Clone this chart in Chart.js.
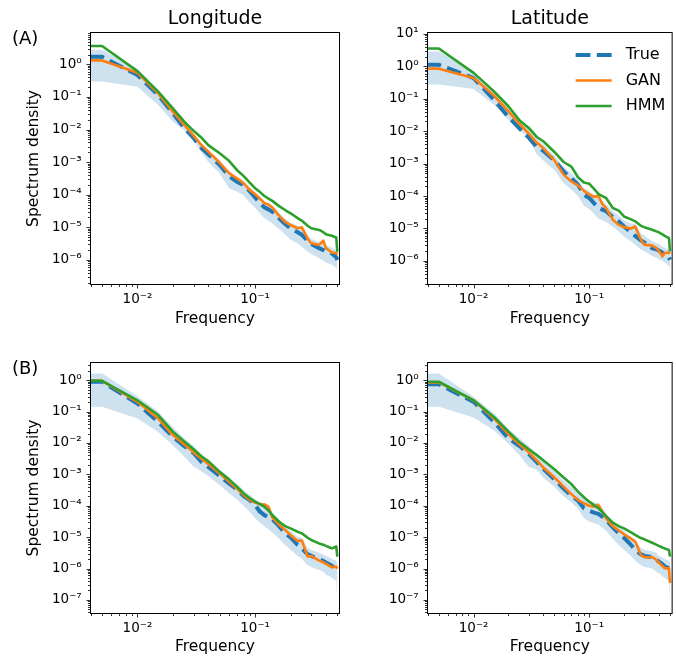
<!DOCTYPE html>
<html>
<head>
<meta charset="utf-8">
<script src="https://cdn.jsdelivr.net/npm/chart.js@4.4.1/dist/chart.umd.min.js"></script>
<style>
  body { margin: 0; background: #fff; width: 676px; height: 660px; position: relative; overflow: hidden; }
  canvas { position: absolute; }
</style>
</head>
<body>
<canvas id="lonA" width="345" height="332" style="left:0;top:0"></canvas>
<canvas id="latA" width="331" height="332" style="left:345px;top:0"></canvas>
<canvas id="lonB" width="345" height="328" style="left:0;top:332px"></canvas>
<canvas id="latB" width="331" height="328" style="left:345px;top:332px"></canvas>
<script>
// frequencies shared by all panels
const freq = [0.0039, 0.005, 0.01, 0.015, 0.02, 0.025, 0.03, 0.035, 0.04, 0.05, 0.06, 0.07, 0.08, 0.09, 0.1,
  0.11, 0.12, 0.13, 0.14, 0.16, 0.18, 0.2, 0.23, 0.25, 0.28, 0.3, 0.35, 0.38, 0.4, 0.43, 0.45, 0.49, 0.5];

// spectrum density, stored as log10 of the value
// (A) Longitude
const lonA_true = [0.23, 0.23, -0.33, -0.94, -1.50, -1.95, -2.26, -2.57, -2.76, -3.09, -3.43, -3.60, -3.71, -3.89, -4.08, -4.25, -4.39, -4.45, -4.52, -4.72, -4.90, -5.03, -5.15, -5.23, -5.42, -5.51, -5.64, -5.70, -5.75, -5.77, -5.80, -5.92, -6.00];
const lonA_gan = [0.12, 0.12, -0.26, -0.89, -1.45, -1.86, -2.19, -2.48, -2.68, -3.02, -3.34, -3.50, -3.65, -3.86, -3.98, -4.12, -4.26, -4.30, -4.39, -4.65, -4.83, -4.93, -5.03, -5.00, -5.35, -5.49, -5.54, -5.41, -5.64, -5.72, -5.78, -5.78, -5.84];
const lonA_hmm = [0.56, 0.56, -0.21, -0.84, -1.35, -1.76, -2.04, -2.25, -2.48, -2.73, -2.96, -3.24, -3.43, -3.63, -3.80, -3.92, -4.04, -4.12, -4.19, -4.35, -4.47, -4.57, -4.72, -4.80, -4.95, -5.03, -5.08, -5.15, -5.21, -5.24, -5.26, -5.31, -5.75];
const lonA_hi = [0.45, 0.45, -0.15, -0.80, -1.38, -1.80, -2.12, -2.42, -2.62, -2.95, -3.28, -3.45, -3.58, -3.75, -3.93, -4.08, -4.22, -4.28, -4.35, -4.55, -4.73, -4.85, -4.95, -4.98, -5.25, -5.35, -5.45, -5.40, -5.55, -5.60, -5.62, -5.70, -5.75];
const lonA_lo = [-0.53, -0.53, -0.69, -1.25, -1.76, -2.02, -2.33, -2.70, -3.00, -3.35, -3.80, -3.90, -4.02, -4.25, -4.40, -4.58, -4.72, -4.80, -4.88, -5.05, -5.22, -5.38, -5.50, -5.60, -5.75, -5.82, -5.95, -6.02, -6.08, -6.12, -6.15, -6.25, -6.35];
// (A) Latitude
const latA_true = [0.05, 0.05, -0.36, -1.03, -1.56, -1.92, -2.20, -2.48, -2.60, -2.90, -3.24, -3.45, -3.65, -3.96, -4.06, -4.22, -4.37, -4.42, -4.47, -4.65, -4.78, -4.94, -5.12, -5.23, -5.37, -5.43, -5.61, -5.64, -5.68, -5.75, -5.81, -5.90, -5.97];
const latA_gan = [-0.07, -0.07, -0.36, -0.90, -1.39, -1.78, -2.07, -2.35, -2.52, -2.90, -3.34, -3.55, -3.67, -3.84, -3.95, -4.03, -3.99, -4.25, -4.37, -4.73, -4.89, -4.96, -5.00, -4.94, -5.35, -5.50, -5.53, -5.60, -5.69, -5.86, -5.76, -5.74, -5.78];
const latA_hmm = [0.55, 0.55, -0.20, -0.77, -1.23, -1.67, -1.90, -2.17, -2.31, -2.64, -2.95, -3.09, -3.42, -3.58, -3.62, -3.78, -3.93, -4.00, -4.06, -4.37, -4.45, -4.63, -4.72, -4.78, -4.92, -4.96, -5.04, -5.09, -5.12, -5.18, -5.23, -5.30, -5.71];
const latA_hi = [0.46, 0.46, -0.16, -0.72, -1.20, -1.60, -1.90, -2.20, -2.40, -2.75, -3.10, -3.30, -3.50, -3.75, -3.85, -3.95, -3.95, -4.15, -4.25, -4.47, -4.60, -4.75, -4.85, -4.85, -5.15, -5.22, -5.40, -5.45, -5.48, -5.55, -5.60, -5.65, -5.70];
const latA_lo = [-0.56, -0.56, -0.70, -1.18, -1.64, -1.95, -2.25, -2.70, -2.90, -3.20, -3.60, -3.80, -4.00, -4.30, -4.40, -4.55, -4.70, -4.75, -4.80, -4.95, -5.10, -5.25, -5.40, -5.50, -5.65, -5.70, -5.85, -5.90, -5.95, -6.00, -6.05, -6.15, -6.25];
// (B) Longitude
const lonB_true = [-0.05, -0.05, -0.74, -1.33, -1.80, -2.10, -2.32, -2.60, -2.76, -3.05, -3.29, -3.48, -3.69, -3.82, -3.98, -4.19, -4.30, -4.36, -4.43, -4.65, -4.88, -5.01, -5.25, -5.36, -5.55, -5.60, -5.71, -5.76, -5.81, -5.87, -5.92, -6.02, -6.10];
const lonB_gan = [-0.02, -0.02, -0.69, -1.22, -1.75, -2.05, -2.30, -2.50, -2.67, -2.97, -3.23, -3.45, -3.66, -3.82, -3.90, -3.95, -3.96, -4.03, -4.37, -4.61, -4.77, -4.93, -5.12, -5.11, -5.62, -5.60, -5.75, -5.80, -5.85, -5.92, -5.96, -5.94, -6.00];
const lonB_hmm = [-0.02, -0.02, -0.64, -1.11, -1.64, -1.95, -2.20, -2.43, -2.58, -2.92, -3.16, -3.39, -3.61, -3.76, -3.87, -3.95, -4.03, -4.15, -4.30, -4.51, -4.65, -4.72, -4.83, -4.88, -5.02, -5.09, -5.20, -5.24, -5.28, -5.33, -5.36, -5.30, -5.62];
const lonB_hi = [0.21, 0.21, -0.51, -1.00, -1.50, -1.85, -2.10, -2.35, -2.55, -2.85, -3.10, -3.30, -3.50, -3.65, -3.80, -3.90, -3.92, -4.00, -4.20, -4.45, -4.65, -4.80, -5.00, -5.02, -5.35, -5.40, -5.50, -5.55, -5.60, -5.65, -5.70, -5.75, -5.80];
const lonB_lo = [-0.85, -0.85, -1.22, -1.65, -2.07, -2.44, -2.76, -2.90, -3.05, -3.35, -3.60, -3.80, -4.00, -4.20, -4.40, -4.55, -4.65, -4.75, -4.85, -5.05, -5.25, -5.40, -5.60, -5.70, -5.90, -5.95, -6.05, -6.10, -6.20, -6.25, -6.30, -6.40, -7.00];
// (B) Latitude
const latB_true = [-0.13, -0.13, -0.69, -1.33, -1.85, -2.10, -2.35, -2.60, -2.82, -3.16, -3.45, -3.68, -3.84, -4.08, -4.16, -4.22, -4.26, -4.35, -4.45, -4.69, -4.88, -5.02, -5.25, -5.41, -5.55, -5.60, -5.64, -5.72, -5.78, -5.86, -5.94, -5.99, -6.10];
const latB_gan = [-0.07, -0.07, -0.64, -1.22, -1.72, -2.05, -2.30, -2.55, -2.78, -3.10, -3.39, -3.63, -3.82, -3.92, -4.00, -4.03, -3.97, -4.19, -4.40, -4.65, -4.79, -4.91, -5.05, -5.14, -5.57, -5.64, -5.64, -5.72, -5.81, -5.92, -5.99, -5.99, -6.46];
const latB_hmm = [-0.05, -0.05, -0.64, -1.17, -1.64, -1.98, -2.20, -2.38, -2.55, -2.84, -3.10, -3.31, -3.55, -3.73, -3.87, -3.98, -4.08, -4.20, -4.33, -4.54, -4.65, -4.72, -4.85, -4.93, -5.03, -5.07, -5.18, -5.24, -5.28, -5.33, -5.36, -5.41, -5.62];
const latB_hi = [0.21, 0.21, -0.53, -1.05, -1.55, -1.85, -2.10, -2.35, -2.55, -2.90, -3.20, -3.40, -3.60, -3.75, -3.85, -3.90, -3.92, -4.10, -4.25, -4.50, -4.65, -4.80, -5.00, -5.10, -5.35, -5.40, -5.45, -5.50, -5.60, -5.65, -5.70, -5.75, -5.80];
const latB_lo = [-0.85, -0.85, -1.19, -1.60, -2.02, -2.39, -2.76, -2.85, -3.10, -3.40, -3.70, -3.90, -4.10, -4.40, -4.50, -4.55, -4.60, -4.70, -4.80, -5.05, -5.25, -5.40, -5.60, -5.75, -5.90, -5.95, -6.00, -6.10, -6.15, -6.25, -6.30, -6.40, -7.00];

const seriesNames = ['True', 'GAN', 'HMM'];
const seriesColors = ['#1f77b4', '#ff7f0e', '#2ca02c'];
const bandColor = 'rgba(31,119,180,0.22)';

Chart.defaults.font.family = '"DejaVu Sans", sans-serif';
Chart.defaults.color = '#000';

const SUP = { '-': '\u207B', '0': '\u2070', '1': '\u00B9', '2': '\u00B2', '3': '\u00B3', '4': '\u2074',
  '5': '\u2075', '6': '\u2076', '7': '\u2077', '8': '\u2078', '9': '\u2079' };

function decadeLabel(v) {
  const e = Math.round(Math.log10(v));
  return '10' + String(e).split('').map(c => SUP[c]).join('');
}

// 1..9 x 10^n ticks like matplotlib, majors at powers of ten
function logTicks(axis) {
  const ticks = [];
  const lo = Math.floor(Math.log10(axis.min)), hi = Math.ceil(Math.log10(axis.max));
  for (let e = lo; e <= hi; e++) {
    for (let m = 1; m <= 9; m++) {
      const v = m * Math.pow(10, e);
      if (v >= axis.min && v <= axis.max) ticks.push({ value: v, major: m === 1 });
    }
  }
  axis.ticks = ticks;
}

const toPoints = logs => logs.map((v, i) => ({ x: freq[i], y: Math.pow(10, v) }));

// frame, tick marks, title, panel letter and legend
const panelDecor = {
  id: 'panelDecor',
  afterDraw(chart, args, o) {
    const { ctx, chartArea: a, scales: { x, y } } = chart;
    ctx.save();
    ctx.strokeStyle = '#000';
    ctx.lineWidth = 0.8;
    ctx.beginPath();
    x.ticks.forEach(t => {
      const px = Math.round(x.getPixelForValue(t.value)) + 0.5;
      ctx.moveTo(px, a.bottom);
      ctx.lineTo(px, a.bottom + (t.major ? 3.5 : 2));
    });
    y.ticks.forEach(t => {
      const py = Math.round(y.getPixelForValue(t.value)) + 0.5;
      ctx.moveTo(a.left, py);
      ctx.lineTo(a.left - (t.major ? 3.5 : 2), py);
    });
    ctx.stroke();
    ctx.lineWidth = 1;
    ctx.strokeRect(a.left + 0.5, a.top + 0.5, a.right - a.left - 1, a.bottom - a.top - 1);

    ctx.fillStyle = '#000';
    if (o.title) {
      ctx.font = '19px "DejaVu Sans"';
      ctx.textAlign = 'center';
      ctx.textBaseline = 'alphabetic';
      ctx.fillText(o.title, (a.left + a.right) / 2, a.top - 8.5);
    }
    if (o.tag) {
      ctx.font = '18px "DejaVu Sans"';
      ctx.textAlign = 'left';
      ctx.textBaseline = 'alphabetic';
      ctx.fillText(o.tag, 12, a.top + 12);
    }
    if (o.legend) {
      const items = chart.data.datasets.filter(d => d.label);
      items.forEach((d, i) => {
        const yy = a.top + 23 + i * 25.5;
        ctx.beginPath();
        ctx.strokeStyle = d.borderColor;
        ctx.lineWidth = d.borderWidth;
        ctx.setLineDash(d.borderDash || []);
        ctx.moveTo(a.right - 97, yy);
        ctx.lineTo(a.right - 61, yy);
        ctx.stroke();
        ctx.setLineDash([]);
        ctx.font = '16px "DejaVu Sans"';
        ctx.textAlign = 'left';
        ctx.textBaseline = 'middle';
        ctx.fillText(d.label, a.right - 47, yy);
      });
    }
    ctx.restore();
  }
};

function makePanel(id, s, opt) {
  const datasets = [
    { data: toPoints(s.lo), borderWidth: 0, pointRadius: 0, fill: false, order: 5 },
    { data: toPoints(s.hi), borderWidth: 0, pointRadius: 0, fill: '-1', backgroundColor: bandColor, order: 4 },
    { label: seriesNames[0], data: toPoints(s.tr), borderColor: seriesColors[0], borderWidth: 4,
      borderDash: [14.8, 6.4], pointRadius: 0, fill: false, order: 3 },
    { label: seriesNames[1], data: toPoints(s.gan), borderColor: seriesColors[1], borderWidth: 2.6,
      pointRadius: 0, fill: false, order: 2 },
    { label: seriesNames[2], data: toPoints(s.hmm), borderColor: seriesColors[2], borderWidth: 2.6,
      pointRadius: 0, fill: false, order: 1 }
  ];
  return new Chart(document.getElementById(id), {
    type: 'line',
    data: { datasets },
    options: {
      responsive: false,
      animation: false,
      events: [],
      datasets: { line: { tension: 0, borderJoinStyle: 'round', clip: 0 } },
      layout: { padding: { left: 0, top: opt.top, right: opt.right, bottom: 0 } },
      plugins: {
        legend: { display: false },
        tooltip: { enabled: false },
        panelDecor: { title: opt.title, tag: opt.tag, legend: opt.legend }
      },
      scales: {
        x: {
          type: 'logarithmic',
          bounds: 'data',
          min: 0.00395,
          max: 0.527,
          afterBuildTicks: logTicks,
          afterFit: sc => { sc.height = opt.xHeight; },
          grid: { display: false, drawTicks: false },
          border: { display: false },
          ticks: {
            autoSkip: false, maxRotation: 0, padding: 6,
            font: { size: 13.5 },
            callback: (v, i, ticks) => ticks[i].major ? decadeLabel(v) : ''
          },
          title: { display: true, text: 'Frequency', font: { size: 15.5 }, padding: { top: 0, bottom: 3.3 } }
        },
        y: {
          type: 'logarithmic',
          bounds: 'data',
          min: opt.yMin,
          max: opt.yMax,
          afterBuildTicks: logTicks,
          afterFit: sc => { sc.width = opt.yWidth; },
          grid: { display: false, drawTicks: false },
          border: { display: false },
          ticks: {
            autoSkip: false, padding: 8.3,
            font: { size: 13.5 },
            callback: (v, i, ticks) => ticks[i].major ? decadeLabel(v) : ''
          },
          title: { display: opt.yTitle, text: 'Spectrum density', font: { size: 15.5 }, padding: { top: 24.3, bottom: 0 } }
        }
      }
    },
    plugins: [panelDecor]
  });
}

makePanel('lonA', { tr: lonA_true, gan: lonA_gan, hmm: lonA_hmm, hi: lonA_hi, lo: lonA_lo },
  { top: 32, right: 5, xHeight: 47, yWidth: 90, yMin: 1.7e-7, yMax: 9.8, yTitle: true, title: 'Longitude', tag: '(A)' });
makePanel('latA', { tr: latA_true, gan: latA_gan, hmm: latA_hmm, hi: latA_hi, lo: latA_lo },
  { top: 32, right: 1, xHeight: 47, yWidth: 82, yMin: 1.8e-7, yMax: 11.5, yTitle: false, title: 'Latitude', legend: true });
makePanel('lonB', { tr: lonB_true, gan: lonB_gan, hmm: lonB_hmm, hi: lonB_hi, lo: lonB_lo },
  { top: 30, right: 5, xHeight: 46, yWidth: 90, yMin: 3.55e-8, yMax: 3.8, yTitle: true, tag: '(B)' });
makePanel('latB', { tr: latB_true, gan: latB_gan, hmm: latB_hmm, hi: latB_hi, lo: latB_lo },
  { top: 30, right: 1, xHeight: 46, yWidth: 82, yMin: 3.55e-8, yMax: 3.8, yTitle: false });
</script>
</body>
</html>
